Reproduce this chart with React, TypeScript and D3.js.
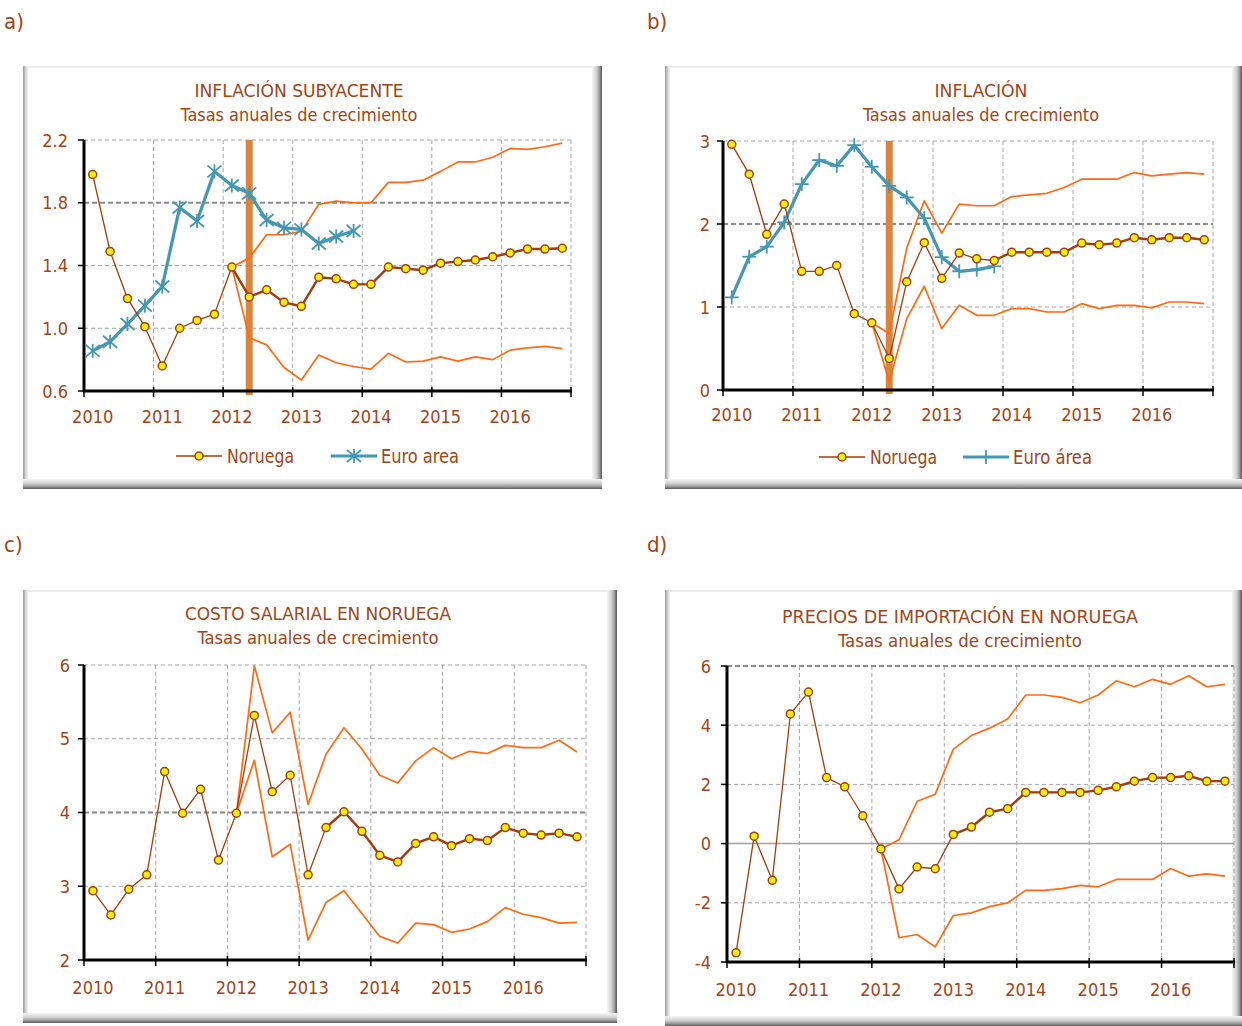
import React from 'react';
import * as d3 from 'd3';

const quarters = [
  '2010T1','2010T2','2010T3','2010T4','2011T1','2011T2','2011T3','2011T4',
  '2012T1','2012T2','2012T3','2012T4','2013T1','2013T2','2013T3','2013T4',
  '2014T1','2014T2','2014T3','2014T4','2015T1','2015T2','2015T3','2015T4',
  '2016T1','2016T2','2016T3','2016T4'];
const yearLabels = ['2010','2011','2012','2013','2014','2015','2016'];

const N8 = [null, null, null, null, null, null, null, null];

// a) Inflación subyacente
const aNoruega = [1.98,1.49,1.19,1.01,0.76,1.00,1.05,1.09,1.39,1.20,1.245,1.165,1.14,1.325,1.315,1.28,1.28,1.39,1.38,1.37,1.415,1.425,1.435,1.455,1.48,1.505,1.505,1.51];
const aEuro = [0.856,0.914,1.027,1.144,1.266,1.77,1.684,2.0,1.91,1.86,1.69,1.64,1.63,1.54,1.585,1.62];
const aUpper = [...N8,1.39,1.447,1.596,1.596,1.617,1.79,1.81,1.80,1.80,1.93,1.93,1.944,2.00,2.06,2.06,2.09,2.146,2.14,2.157,2.18];
const aLower = [...N8,1.39,0.94,0.894,0.75,0.67,0.83,0.78,0.756,0.74,0.84,0.785,0.79,0.818,0.79,0.818,0.80,0.86,0.875,0.884,0.87];
const aTicks = [0.6,1.0,1.4,1.8,2.2];

// b) Inflación
const bNoruega = [2.96,2.6,1.876,2.24,1.43,1.43,1.5,0.92,0.81,0.38,1.305,1.775,1.345,1.65,1.58,1.56,1.66,1.66,1.66,1.66,1.77,1.75,1.77,1.835,1.81,1.835,1.835,1.81];
const bEuro = [1.116,1.606,1.727,2.02,2.48,2.77,2.70,2.95,2.69,2.46,2.32,2.07,1.6,1.43,1.45,1.49];
const bUpper = [...N8,0.81,0.68,1.71,2.28,1.89,2.24,2.22,2.22,2.33,2.35,2.37,2.44,2.54,2.54,2.54,2.62,2.58,2.6,2.62,2.6];
const bLower = [...N8,0.81,0.10,0.86,1.25,0.74,1.02,0.90,0.90,0.98,0.98,0.94,0.94,1.04,0.98,1.02,1.02,0.99,1.06,1.06,1.04];
const bTicks = [0,1,2,3];

// c) Costo salarial
const cNoruega = [2.94,2.61,2.96,3.155,4.555,3.99,4.315,3.355,3.99,5.316,4.283,4.505,3.155,3.795,4.01,3.745,3.42,3.33,3.58,3.67,3.55,3.645,3.62,3.795,3.72,3.694,3.72,3.67];
const cUpper = [...N8,3.99,5.99,5.08,5.36,4.11,4.79,5.15,4.86,4.505,4.4,4.7,4.88,4.73,4.83,4.8,4.91,4.88,4.88,4.98,4.82];
const cLower = [...N8,3.99,4.71,3.40,3.57,2.27,2.78,2.94,2.63,2.32,2.23,2.50,2.48,2.375,2.42,2.52,2.71,2.62,2.575,2.50,2.51];
const cTicks = [2,3,4,5,6];

// d) Precios de importación
const dNoruega = [-3.69,0.25,-1.24,4.38,5.12,2.23,1.92,0.94,-0.18,-1.53,-0.79,-0.85,0.31,0.56,1.06,1.18,1.73,1.73,1.73,1.73,1.80,1.92,2.11,2.23,2.23,2.29,2.11,2.11];
const dUpper = [...N8,-0.18,0.13,1.43,1.67,3.19,3.65,3.9,4.21,5.02,5.02,4.94,4.76,5.02,5.5,5.3,5.55,5.38,5.67,5.3,5.38];
const dLower = [...N8,-0.18,-3.18,-3.07,-3.49,-2.43,-2.34,-2.13,-2.0,-1.58,-1.58,-1.52,-1.41,-1.46,-1.21,-1.21,-1.21,-0.84,-1.10,-1.02,-1.10];
const dTicks = [-4,-2,0,2,4,6];

const FONT = "'DejaVu Sans Condensed','DejaVu Sans',sans-serif";
const TXT = '#A0461A';
const NOR = '#A23E0C';
const MFILL = '#FFF000';
const EURO = '#4598B2';
const BAND = '#FF6A12';
const VBAR = '#DB853C';

const hyphen = (f: (v: number) => string) => (v: number) => f(v).replace('\u2212', '-');

type Cfg = {
  letter: string; lx: number; ly: number;
  frame: [number, number, number, number];
  x0: number; x1: number; yt: number; yb: number;
  domain: [number, number]; ticks: number[]; fmt: (v: number) => string;
  title: string; tW: number; sub: string; sW: number; tcx: number; ty: number;
  labelRight: number; yearBase: number;
  nor: (number | null)[]; upper: (number | null)[]; lower: (number | null)[];
  euro?: number[]; euroMarker?: 'star' | 'plus'; euroLabel?: string;
  vbar?: number; thickFrom: number; strong: number; zero?: boolean;
  legendY?: number; legendX?: number; euroLegendX?: number; euroTextW?: number;
};

const configs: Cfg[] = [
  {
    letter: 'a)', lx: 4, ly: 29, frame: [23, 66, 602, 489],
    x0: 84, x1: 571, yt: 140, yb: 391, domain: [0.6, 2.2], ticks: aTicks, fmt: d3.format('.1f'),
    title: 'INFLACIÓN SUBYACENTE', tW: 209, sub: 'Tasas anuales de crecimiento', sW: 237, tcx: 299, ty: 97,
    labelRight: 68, yearBase: 423,
    nor: aNoruega, upper: aUpper, lower: aLower, euro: aEuro, euroMarker: 'star', euroLabel: 'Euro area',
    vbar: 9, thickFrom: 8, strong: 1.8, legendY: 456, legendX: 176, euroLegendX: 331, euroTextW: 78,
  },
  {
    letter: 'b)', lx: 647, ly: 29, frame: [665, 66, 1242, 489],
    x0: 723, x1: 1213, yt: 141, yb: 390, domain: [0, 3], ticks: bTicks, fmt: d3.format('d'),
    title: 'INFLACIÓN', tW: 93, sub: 'Tasas anuales de crecimiento', sW: 236, tcx: 981, ty: 97,
    labelRight: 710, yearBase: 421,
    nor: bNoruega, upper: bUpper, lower: bLower, euro: bEuro, euroMarker: 'plus', euroLabel: 'Euro área',
    vbar: 9, thickFrom: 15, strong: 2, legendY: 457, legendX: 819, euroLegendX: 963, euroTextW: 79,
  },
  {
    letter: 'c)', lx: 4, ly: 552, frame: [23, 590, 617, 1023],
    x0: 84, x1: 586, yt: 665, yb: 960, domain: [2, 6], ticks: cTicks, fmt: d3.format('d'),
    title: 'COSTO SALARIAL EN NORUEGA', tW: 266, sub: 'Tasas anuales de crecimiento', sW: 241, tcx: 318, ty: 620,
    labelRight: 70, yearBase: 994,
    nor: cNoruega, upper: cUpper, lower: cLower, thickFrom: 13, strong: 4,
  },
  {
    letter: 'd)', lx: 647, ly: 552, frame: [665, 590, 1242, 1026],
    x0: 727, x1: 1234, yt: 666, yb: 962, domain: [-4, 6], ticks: dTicks, fmt: hyphen(d3.format('d')),
    title: 'PRECIOS DE IMPORTACIÓN EN NORUEGA', tW: 356, sub: 'Tasas anuales de crecimiento', sW: 244, tcx: 960, ty: 623,
    labelRight: 711, yearBase: 996,
    nor: dNoruega, upper: dUpper, lower: dLower, thickFrom: 12, strong: 6, zero: true,
  },
];

function EuroMarker({ x, y, kind }: { x: number; y: number; kind: 'star' | 'plus' }) {
  if (kind === 'plus') {
    return (
      <g stroke={EURO} strokeWidth={1.8}>
        <line x1={x - 7} y1={y} x2={x + 7} y2={y} />
        <line x1={x} y1={y - 7} x2={x} y2={y + 7} />
      </g>
    );
  }
  return (
    <g stroke={EURO} strokeWidth={1.8}>
      <line x1={x - 7} y1={y - 6} x2={x + 7} y2={y + 6} />
      <line x1={x - 7} y1={y + 6} x2={x + 7} y2={y - 6} />
      <line x1={x} y1={y - 7} x2={x} y2={y + 7} />
    </g>
  );
}

function Frame({ f }: { f: [number, number, number, number] }) {
  const [l, t, r, b] = f;
  return (
    <g>
      <rect x={l} y={t} width={r - l} height={b - t} fill="#fff" />
      <rect x={l} y={t} width={r - l} height={2} fill="#ececec" />
      <rect x={l} y={t} width={5} height={b - t} fill="url(#gLeft)" />
      <rect x={r - 10} y={t} width={10} height={b - t} fill="url(#gRight)" />
      <rect x={l} y={b - 10} width={r - l} height={10} fill="url(#gBottom)" />
    </g>
  );
}

function Panel({ c }: { c: Cfg }) {
  const x = d3.scaleBand<string>().domain(quarters).range([c.x0, c.x1]).padding(0);
  const y = d3.scaleLinear().domain(c.domain).range([c.yb, c.yt]);
  const bw = x.bandwidth();
  const cx = (i: number) => (x(quarters[i]) as number) + bw / 2;
  const line = d3.line<number | null>()
    .defined((v) => v != null)
    .x((_, i) => cx(i))
    .y((v) => y(v as number));
  const yearEdges = yearLabels.map((_, k) => x(quarters[k * 4]) as number).concat([c.x1]);
  const thickSeries = c.nor.map((v, i) => (i >= c.thickFrom ? v : null));

  return (
    <g fontFamily={FONT}>
      <Frame f={c.frame} />
      <text x={c.lx} y={c.ly} fontSize={22} fill={TXT}>{c.letter}</text>
      <text x={c.tcx} y={c.ty} fontSize={18} fill={TXT} textAnchor="middle" textLength={c.tW} lengthAdjust="spacingAndGlyphs">{c.title}</text>
      <text x={c.tcx} y={c.ty + 24} fontSize={18} fill={TXT} textAnchor="middle" textLength={c.sW} lengthAdjust="spacingAndGlyphs">{c.sub}</text>

      {/* grid */}
      {c.ticks.map((t) => (
        t === 0 && c.zero ? (
          <line key={'h' + t} x1={c.x0} x2={c.x1} y1={y(t)} y2={y(t)} stroke="#a0a0a0" strokeWidth={1.5} />
        ) : (
          <line key={'h' + t} x1={c.x0} x2={c.x1} y1={y(t)} y2={y(t)}
            stroke={t === c.strong ? '#8c8c8c' : '#a6a6a6'} strokeWidth={t === c.strong ? 2 : 1}
            strokeDasharray={t === c.strong ? '5,3' : '4,3'} />
        )
      ))}
      {yearEdges.slice(1).map((xe, k) => (
        <line key={'v' + k} x1={xe} x2={xe} y1={c.yt} y2={c.yb} stroke="#a6a6a6" strokeWidth={1} strokeDasharray="4,3" />
      ))}

      {c.vbar != null && (
        <rect x={cx(c.vbar) - 3.5} y={c.yt} width={7} height={c.yb - c.yt + 4} fill={VBAR} />
      )}

      {/* axes */}
      <line x1={c.x0} x2={c.x0} y1={c.yt} y2={c.yb + 1} stroke="#000" strokeWidth={3} />
      <line x1={c.x0 - 1} x2={c.x1 + 1} y1={c.yb} y2={c.yb} stroke="#000" strokeWidth={3} />
      {c.ticks.map((t) => (
        <line key={'yt' + t} x1={c.x0 - 6} x2={c.x0} y1={y(t)} y2={y(t)} stroke="#000" strokeWidth={1.5} />
      ))}
      {yearEdges.map((xe, k) => (
        <line key={'xt' + k} x1={xe} x2={xe} y1={c.yb - 4} y2={c.yb + 6} stroke="#000" strokeWidth={1.5} />
      ))}
      {c.ticks.map((t) => (
        <text key={'yl' + t} x={c.labelRight} y={y(t) + 6.5} fontSize={18} fill={TXT} textAnchor="end">{c.fmt(t)}</text>
      ))}
      {yearLabels.map((lab, k) => (
        <text key={'xl' + k} x={cx(k * 4)} y={c.yearBase} fontSize={18} fill={TXT} textAnchor="middle">{lab}</text>
      ))}

      {/* bands */}
      <path d={line(c.upper) || ''} fill="none" stroke={BAND} strokeWidth={1.7} strokeLinejoin="round" />
      <path d={line(c.lower) || ''} fill="none" stroke={BAND} strokeWidth={1.7} strokeLinejoin="round" />

      {/* euro */}
      {c.euro && (
        <g>
          <path d={line(c.euro) || ''} fill="none" stroke={EURO} strokeWidth={3.2} strokeLinejoin="round" />
          {c.euro.map((v, i) => <EuroMarker key={i} x={cx(i)} y={y(v)} kind={c.euroMarker!} />)}
        </g>
      )}

      {/* Noruega */}
      <path d={line(c.nor) || ''} fill="none" stroke={NOR} strokeWidth={1.3} strokeLinejoin="round" />
      <path d={line(thickSeries) || ''} fill="none" stroke={NOR} strokeWidth={2.4} strokeLinejoin="round" />
      {c.nor.map((v, i) => v == null ? null : (
        <circle key={i} cx={cx(i)} cy={y(v)} r={4} fill={MFILL} stroke={NOR} strokeWidth={1.5} />
      ))}

      {/* legend */}
      {c.legendY != null && (
        <g>
          <line x1={c.legendX!} x2={c.legendX! + 46} y1={c.legendY} y2={c.legendY} stroke={NOR} strokeWidth={1.3} />
          <circle cx={c.legendX! + 23} cy={c.legendY} r={4} fill={MFILL} stroke={NOR} strokeWidth={1.5} />
          <text x={c.legendX! + 51} y={c.legendY + 7} fontSize={19} fill={TXT} textLength={67} lengthAdjust="spacingAndGlyphs">Noruega</text>
          <line x1={c.euroLegendX!} x2={c.euroLegendX! + 46} y1={c.legendY} y2={c.legendY} stroke={EURO} strokeWidth={3.2} />
          <EuroMarker x={c.euroLegendX! + 23} y={c.legendY!} kind={c.euroMarker!} />
          <text x={c.euroLegendX! + 50} y={c.legendY + 7} fontSize={19} fill={TXT} textLength={c.euroTextW} lengthAdjust="spacingAndGlyphs">{c.euroLabel}</text>
        </g>
      )}
    </g>
  );
}

export default function App() {
  return (
    <svg width={1242} height={1026} viewBox="0 0 1242 1026"
      style={{ position: 'absolute', left: 0, top: 0, background: '#fff' }}>
      <defs>
        <linearGradient id="gLeft" x1="0" x2="1" y1="0" y2="0">
          <stop offset="0" stopColor="#9a9a9a" />
          <stop offset="0.5" stopColor="#cfcfcf" />
          <stop offset="1" stopColor="#f4f4f4" />
        </linearGradient>
        <linearGradient id="gRight" x1="0" x2="1" y1="0" y2="0">
          <stop offset="0" stopColor="#f6f6f6" />
          <stop offset="0.45" stopColor="#d0d0d0" />
          <stop offset="0.75" stopColor="#9a9a9a" />
          <stop offset="1" stopColor="#555" />
        </linearGradient>
        <linearGradient id="gBottom" x1="0" x2="0" y1="0" y2="1">
          <stop offset="0" stopColor="#f6f6f6" />
          <stop offset="0.45" stopColor="#d0d0d0" />
          <stop offset="0.75" stopColor="#9a9a9a" />
          <stop offset="1" stopColor="#5a5a5a" />
        </linearGradient>
      </defs>
      <rect width={1242} height={1026} fill="#fff" />
      {configs.map((c, i) => <Panel key={i} c={c} />)}
    </svg>
  );
}
